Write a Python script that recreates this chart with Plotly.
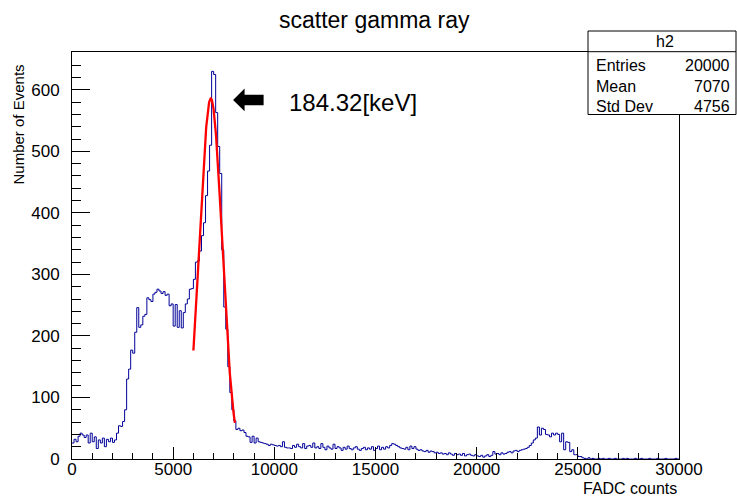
import numpy as np
import plotly.graph_objects as go

# ---- histogram h2: 300 bins over [0, 30000] FADC counts ----
BIN_LOW, BIN_HIGH, N_BINS = 0, 30000, 300

counts_low = [26, 32, 28, 37, 42, 39, 35, 39, 26, 42, 28, 36, 17, 31, 26, 34, 20, 32, 28, 34,
              27, 31, 42, 54, 53]
counts_hump = [61, 80, 130, 146, 177, 172, 206, 246, 214, 218, 232, 235, 262, 259, 256, 268, 271, 276,
               273, 269, 272, 266, 268, 249, 252, 216, 251, 214, 241, 213, 238, 252, 260, 276, 277]
counts_peak = [292, 320, 322, 338, 363, 384, 428, 468, 510, 630, 625, 563, 508, 464, 340, 247, 211,
               150, 108, 80, 62, 48]
counts_tail = [50, 46, 47, 43, 37, 36, 27, 37,
               26, 34, 28, 27, 26, 25, 24, 22, 24, 23,
               22, 21, 22, 20, 28, 19, 18, 18, 17, 22,
               19, 24, 20, 18, 25, 17, 21, 22, 19, 26,
               18, 20, 17, 25, 19, 15, 21, 18, 16, 24,
               17, 20, 18, 14, 19, 16, 21, 17, 15, 18,
               20, 16, 14, 17, 19, 15, 18, 16, 20, 14,
               17, 21, 15, 19, 16, 20, 18, 22, 25, 24,
               22, 20, 18, 17, 16, 19, 15, 21, 17, 20,
               16, 14, 15, 13, 12, 14, 11, 13, 12, 10,
               11, 9, 10, 8, 9, 7, 10, 8, 6, 9,
               7, 8, 6, 9, 5, 7, 8, 6, 5, 7,
               5, 4, 6, 3, 5, 7, 4, 6, 12, 8,
               9, 7, 10, 8, 9, 11, 12, 10, 13, 14,
               12, 14, 15, 16, 17]
counts_edge = [19, 22, 26, 31, 34, 52, 39, 50, 48, 40, 39, 36, 42, 39, 42, 40, 28, 42, 15, 28,
               27, 12, 15, 7, 7, 4, 4, 2]
counts_end = [1, 0, 2, 0, 1, 0, 0, 1, 0, 1, 0, 0, 1, 0, 0, 1, 0, 0, 0, 1,
              0, 1, 0, 0, 0, 1, 0, 0, 1, 0, 0, 0, 1, 0, 0, 0, 1, 0, 0, 0,
              1, 0, 0, 0, 0, 1, 0]
counts = counts_low + counts_hump + counts_peak + counts_tail + counts_edge + counts_end

# statistics box entries
hist_name = "h2"
stat_labels = ["Entries", "Mean", "Std Dev"]
stat_values = ["20000", "7070", "4756"]

# gaussian fit of the photo-peak
FIT_AMP, FIT_MEAN, FIT_SIGMA = 586.0, 6860.0, 555.0
FIT_RANGE = (6000.0, 8050.0)

peak_label = "184.32[keV]"

FONT = "Liberation Sans, Arial, Helvetica, sans-serif"
W, H = 737, 497
ML, MR, MT, MB = 72, 58, 52, 38
PW, PH = W - ML - MR, H - MT - MB


def px(xpix):
    return (xpix - ML) / PW


def py(ypix):
    return (H - MB - ypix) / PH


edges = np.linspace(BIN_LOW, BIN_HIGH, N_BINS + 1)
step_y = counts + [counts[-1]]

fit_x = np.linspace(FIT_RANGE[0], FIT_RANGE[1], 200)
fit_y = FIT_AMP * np.exp(-0.5 * ((fit_x - FIT_MEAN) / FIT_SIGMA) ** 2)

fig = go.Figure()
fig.add_trace(go.Scatter(x=edges, y=step_y, mode="lines", line_shape="hv",
                         line=dict(color="#000099", width=1), hoverinfo="skip"))
fig.add_trace(go.Scatter(x=fit_x, y=fit_y, mode="lines",
                         line=dict(color="#ff0000", width=2.3), hoverinfo="skip"))

y_top = 1.05 * max(counts)

axis_common = dict(showline=True, linecolor="black", linewidth=1, mirror=True,
                   ticks="inside", tickcolor="black", tickwidth=1,
                   showgrid=False, zeroline=False, tickformat="d",
                   tickfont=dict(family=FONT, size=17, color="black"))

fig.update_xaxes(range=[BIN_LOW, BIN_HIGH], tick0=0, dtick=5000, ticklen=12,
                 ticklabelstandoff=-5,
                 minor=dict(ticks="inside", ticklen=6, dtick=1000, tickcolor="black"),
                 **axis_common)
fig.update_yaxes(range=[0, y_top], tick0=0, dtick=100, ticklen=18,
                 ticklabelstandoff=8,
                 minor=dict(ticks="inside", ticklen=9, dtick=20, tickcolor="black"),
                 **axis_common)

# left-pointing arrow next to the peak
ax_tip, ax_head, ax_tail = 7960, 8530, 9470
ay_mid, ay_head, ay_shaft = 583.5, 18.5, 8.5
arrow_path = (f"M {ax_tip},{ay_mid} L {ax_head},{ay_mid + ay_head} L {ax_head},{ay_mid + ay_shaft} "
              f"L {ax_tail},{ay_mid + ay_shaft} L {ax_tail},{ay_mid - ay_shaft} "
              f"L {ax_head},{ay_mid - ay_shaft} L {ax_head},{ay_mid - ay_head} Z")

shapes = [
    dict(type="path", xref="x", yref="y", path=arrow_path,
         fillcolor="black", line=dict(width=0)),
    # statistics box
    dict(type="rect", xref="paper", yref="paper", x0=px(588), x1=px(736), y0=py(114.5), y1=py(31),
         fillcolor="white", line=dict(color="black", width=1), layer="above"),
    dict(type="line", xref="paper", yref="paper", x0=px(588), x1=px(736), y0=py(51.7), y1=py(51.7),
         line=dict(color="black", width=1), layer="above"),
]

annotations = [
    dict(text="scatter gamma ray", xref="paper", yref="paper", x=px(374.5), y=py(20),
         xanchor="center", yanchor="middle", showarrow=False,
         font=dict(family=FONT, size=23, color="black")),
    dict(text="Number of Events", xref="paper", yref="paper", x=px(18.5), y=py(63),
         xanchor="center", yanchor="top", textangle=-90, showarrow=False,
         font=dict(family=FONT, size=15, color="black")),
    dict(text="FADC counts", xref="paper", yref="paper", x=1.0, y=py(488),
         xanchor="right", yanchor="middle", showarrow=False,
         font=dict(family=FONT, size=16, color="black")),
    dict(text=peak_label, xref="paper", yref="paper", x=px(287), y=py(102),
         xanchor="left", yanchor="middle", showarrow=False,
         font=dict(family=FONT, size=24, color="black")),
    dict(text=hist_name, xref="paper", yref="paper", x=px(665), y=py(41.5),
         xanchor="center", yanchor="middle", showarrow=False,
         font=dict(family=FONT, size=16, color="black")),
]
for i, (lab, val) in enumerate(zip(stat_labels, stat_values)):
    yy = py(65 + 21 * i)
    annotations.append(dict(text=lab, xref="paper", yref="paper", x=px(594), y=yy,
                            xanchor="left", yanchor="middle", showarrow=False,
                            font=dict(family=FONT, size=16, color="black")))
    annotations.append(dict(text=val, xref="paper", yref="paper", x=px(732), y=yy,
                            xanchor="right", yanchor="middle", showarrow=False,
                            font=dict(family=FONT, size=16, color="black")))

fig.update_layout(width=W, height=H, margin=dict(l=ML, r=MR, t=MT, b=MB),
                  paper_bgcolor="white", plot_bgcolor="white", showlegend=False,
                  shapes=shapes, annotations=annotations)

fig.write_html("out.html")
